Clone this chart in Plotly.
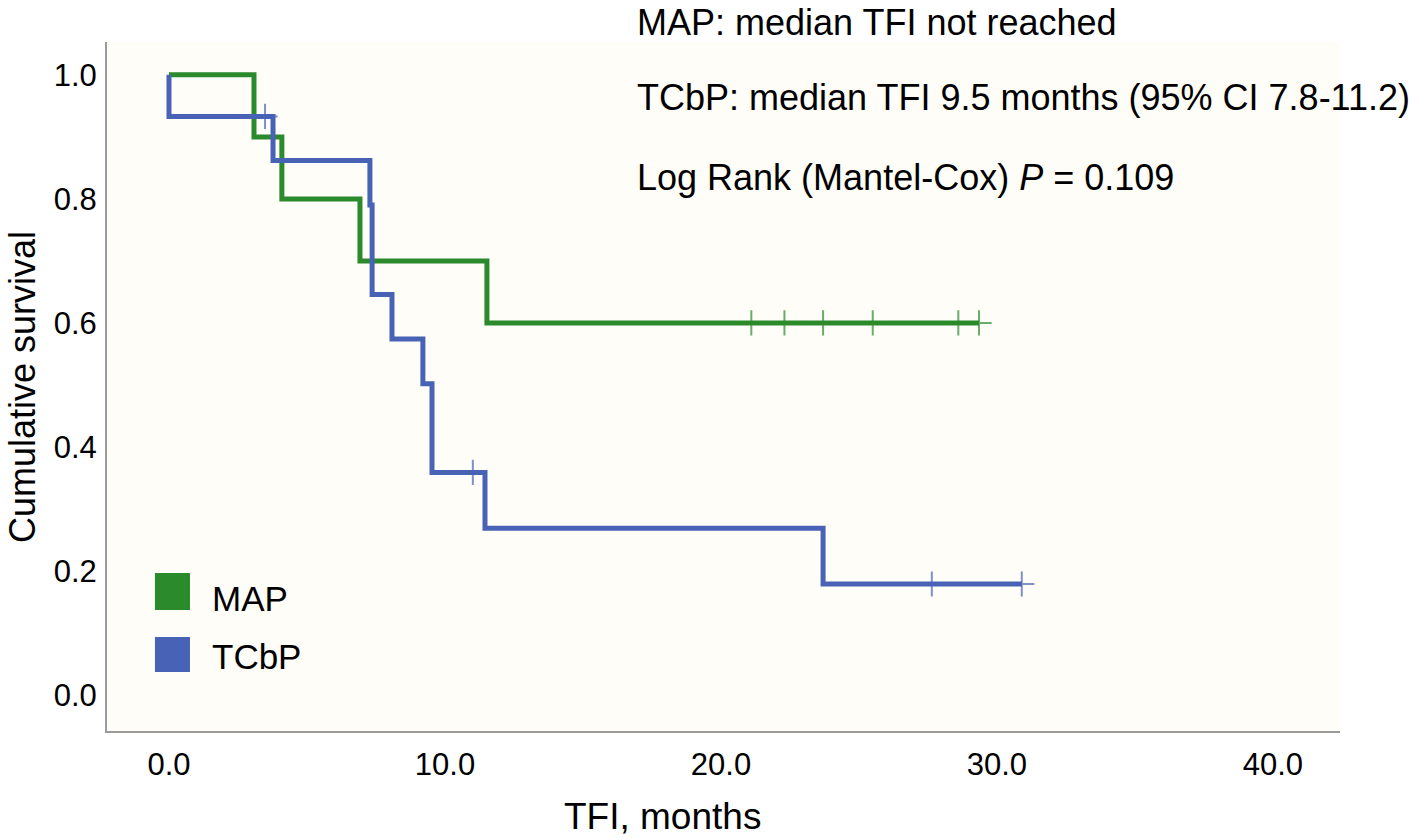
import plotly.graph_objects as go

# ---- data ----
map_times = [0.0, 3.08, 4.09, 6.92, 11.52, 29.35]
map_surv = [1.0, 0.9, 0.8, 0.7, 0.6, 0.6]
map_cens_t = [21.1, 22.3, 23.7, 25.5, 28.6, 29.35]
map_cens_s = [0.6, 0.6, 0.6, 0.6, 0.6, 0.6]

tcbp_times = [0.0, 0.0, 3.77, 7.28, 7.36, 8.08, 9.20, 9.53, 11.45, 23.70, 30.9]
tcbp_surv = [1.0, 0.933, 0.862, 0.790, 0.646, 0.574, 0.502, 0.359, 0.269, 0.179, 0.179]
tcbp_cens_t = [3.48, 11.01, 27.64, 30.9]
tcbp_cens_s = [0.933, 0.359, 0.179, 0.179]

x_ticks = [0, 10, 20, 30, 40]
y_ticks = [0.0, 0.2, 0.4, 0.6, 0.8, 1.0]

GREEN = "#2b8a2b"
BLUE = "#4862b6"
FONT = "Liberation Sans, Arial, sans-serif"

fig = go.Figure()
fig.add_trace(go.Scatter(x=map_times, y=map_surv, mode="lines", line=dict(color=GREEN, width=5, shape="hv"),
                         showlegend=False))
fig.add_trace(go.Scatter(x=tcbp_times, y=tcbp_surv, mode="lines", line=dict(color=BLUE, width=5, shape="hv"),
                         showlegend=False))
fig.add_trace(go.Scatter(x=map_cens_t, y=map_cens_s, mode="markers",
                         marker=dict(symbol="cross-thin", size=18, line=dict(color="rgba(43,138,43,0.7)", width=2)),
                         showlegend=False))
fig.add_trace(go.Scatter(x=tcbp_cens_t, y=tcbp_cens_s, mode="markers",
                         marker=dict(symbol="cross-thin", size=18, line=dict(color="rgba(72,98,182,0.7)", width=2)),
                         showlegend=False))

fig.update_layout(
    width=1418, height=839,
    margin=dict(l=107, r=78, t=42, b=108),
    paper_bgcolor="white",
    plot_bgcolor="#fefdf8",
    font=dict(family=FONT, size=31, color="black"),
    xaxis=dict(range=[-2.246, 42.43], tickvals=x_ticks, ticktext=[f"{v:.1f}" for v in x_ticks],
               showgrid=False, zeroline=False, showline=True, linecolor="#9a9a9a", linewidth=2,
               ticks="outside", ticklen=5, tickcolor="rgba(0,0,0,0)", tickfont=dict(size=31)),
    yaxis=dict(range=[-0.058, 1.053], tickvals=y_ticks, ticktext=[f"{v:.1f}" for v in y_ticks],
               showgrid=False, zeroline=False, showline=True, linecolor="#9a9a9a", linewidth=2,
               ticks="outside", ticklen=2, tickcolor="rgba(0,0,0,0)", tickfont=dict(size=31)),
)

# legend (custom squares)
fig.add_shape(type="rect", xref="paper", yref="paper", x0=0.0389, x1=0.0673, y0=0.1756, y1=0.2293,
              fillcolor=GREEN, line=dict(width=0))
fig.add_shape(type="rect", xref="paper", yref="paper", x0=0.0389, x1=0.0673, y0=0.0856, y1=0.1364,
              fillcolor=BLUE, line=dict(width=0))
fig.add_annotation(xref="paper", yref="paper", x=(210 - 107) / 1233, y=(731 - 598) / 689, text="MAP", showarrow=False,
                   xanchor="left", yanchor="middle", font=dict(size=35))
fig.add_annotation(xref="paper", yref="paper", x=(210 - 107) / 1233, y=(731 - 656) / 689, text="TCbP", showarrow=False,
                   xanchor="left", yanchor="middle", font=dict(size=35))

# stats text
fig.add_annotation(xref="paper", yref="paper", x=(635 - 107) / 1233, y=731 / 689,
                   text="MAP: median TFI not reached",
                   showarrow=False, xanchor="left", yanchor="top", font=dict(size=36))
fig.add_annotation(xref="paper", yref="paper", x=(635 - 107) / 1233, y=(731 - 98) / 689,
                   text="TCbP: median TFI 9.5 months (95% CI 7.8-11.2)",
                   showarrow=False, xanchor="left", yanchor="middle", font=dict(size=36))
fig.add_annotation(xref="paper", yref="paper", x=(635 - 107) / 1233, y=(731 - 178) / 689,
                   text="Log Rank (Mantel-Cox) <i>P</i> = 0.109",
                   showarrow=False, xanchor="left", yanchor="middle", font=dict(size=36))

# axis titles
fig.add_annotation(xref="paper", yref="paper", x=(662 - 107) / 1233, y=-108 / 689, text="TFI, months",
                   showarrow=False, xanchor="center", yanchor="bottom", font=dict(size=37))
fig.add_annotation(xref="paper", yref="paper", x=(22 - 107) / 1233, y=(731 - 387) / 689, text="Cumulative survival",
                   showarrow=False, xanchor="center", yanchor="middle", textangle=-90, font=dict(size=36))

fig.write_html("out.html", config={"displayModeBar": False},
               post_script="document.body.style.margin='0';")
